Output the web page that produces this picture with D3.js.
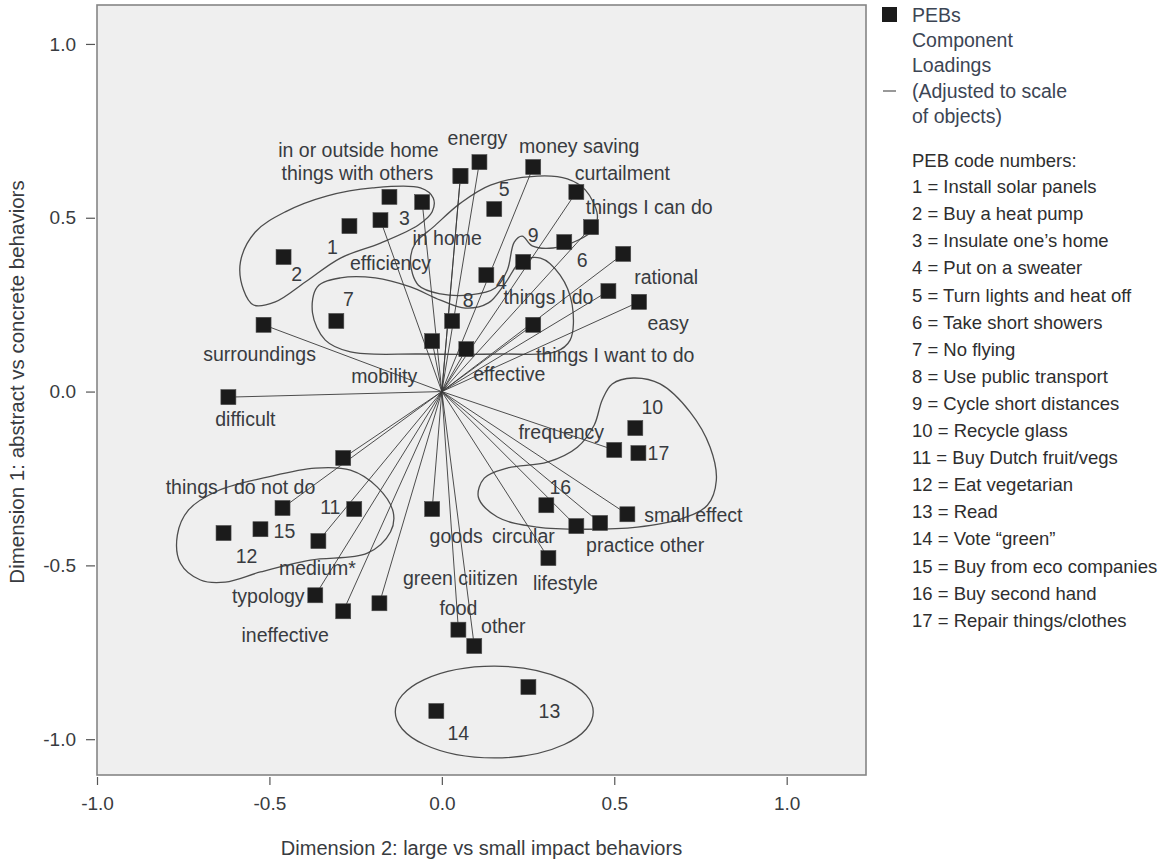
<!DOCTYPE html>
<html>
<head>
<meta charset="utf-8">
<script src="https://cdn.jsdelivr.net/npm/d3@7"></script>
<style>
  body { margin: 0; background: #ffffff; }
  text { font-family: "Liberation Sans", Arial, Helvetica, sans-serif; }
</style>
</head>
<body>
<svg id="chart" width="1170" height="864"></svg>
<script>
// ---------------- DATA ----------------
// PEB objects (numbered behaviours)
const pebCodes = [1, 2, 3, 4, 5, 6, 7, 8, 9, 10, 11, 12, 13, 14, 15, 16, 17];
const pebX = [-0.268, -0.459, -0.152, 0.129, 0.152, 0.355, -0.306, 0.030, 0.236, 0.561, -0.254, -0.633, 0.251, -0.016, -0.526, 0.303, 0.570];
const pebY = [0.476, 0.387, 0.560, 0.335, 0.525, 0.430, 0.203, 0.203, 0.373, -0.105, -0.338, -0.407, -0.850, -0.919, -0.396, -0.327, -0.177];

// Component loadings (vectors from origin)
const loadingNames = ["in or outside home", "things with others", "energy", "money saving", "curtailment",
  "things I can do", "in home", "efficiency", "rational", "things I do", "easy", "things I want to do",
  "effective", "mobility", "surroundings", "difficult", "frequency", "small effect", "practice other",
  "circular", "goods", "lifestyle", "green ciitizen", "food", "other", "typology", "ineffective",
  "medium*", "things I do not do", ""];
const loadingX = [0.054, 0.054, 0.109, 0.265, 0.390, 0.433, -0.057, -0.178, 0.526, 0.483, 0.572, 0.265,
  0.071, -0.028, -0.517, -0.619, 0.500, 0.538, 0.459, 0.390, -0.028, 0.309, -0.181, 0.048, 0.094, -0.367,
  -0.286, -0.358, -0.462, -0.286];
const loadingY = [0.620, 0.620, 0.660, 0.646, 0.574, 0.473, 0.545, 0.493, 0.396, 0.289, 0.258, 0.192,
  0.122, 0.145, 0.192, -0.016, -0.168, -0.353, -0.378, -0.387, -0.338, -0.479, -0.609, -0.685, -0.732, -0.586,
  -0.632, -0.430, -0.335, -0.191];

// Hand-drawn cluster outlines (data units)
const clusterHomeInvest = [[-0.575,0.292],[-0.584,0.373],[-0.541,0.459],[-0.454,0.517],[-0.332,0.563],[-0.201,0.586],[-0.062,0.586],[-0.025,0.557],[-0.028,0.517],[-0.068,0.479],[-0.178,0.427],[-0.294,0.384],[-0.396,0.315],[-0.483,0.258],[-0.546,0.249]];
const clusterCurtail = [[-0.025,0.473],[0.054,0.542],[0.141,0.594],[0.277,0.620],[0.364,0.612],[0.416,0.580],[0.451,0.508],[0.439,0.465],[0.396,0.436],[0.323,0.413],[0.262,0.419],[0.233,0.447],[0.210,0.430],[0.190,0.350],[0.155,0.298],[0.083,0.278],[-0.004,0.281],[-0.068,0.306],[-0.091,0.373],[-0.077,0.427]];
const clusterMobility = [[-0.361,0.301],[-0.294,0.327],[-0.193,0.327],[-0.091,0.301],[-0.004,0.263],[0.068,0.240],[0.135,0.255],[0.184,0.312],[0.228,0.373],[0.286,0.384],[0.343,0.335],[0.378,0.249],[0.372,0.148],[0.329,0.114],[0.170,0.108],[-0.062,0.108],[-0.265,0.114],[-0.338,0.148],[-0.375,0.226]];
const clusterCircular = [[0.465,-0.024],[0.494,0.022],[0.555,0.039],[0.633,0.022],[0.720,-0.059],[0.778,-0.160],[0.796,-0.255],[0.770,-0.327],[0.691,-0.367],[0.567,-0.390],[0.422,-0.396],[0.277,-0.390],[0.161,-0.361],[0.106,-0.304],[0.123,-0.249],[0.190,-0.220],[0.306,-0.203],[0.393,-0.160],[0.442,-0.096]];
const clusterFood = [[-0.767,-0.413],[-0.758,-0.494],[-0.700,-0.542],[-0.628,-0.548],[-0.526,-0.519],[-0.381,-0.485],[-0.216,-0.465],[-0.149,-0.404],[-0.141,-0.347],[-0.187,-0.275],[-0.265,-0.226],[-0.367,-0.220],[-0.506,-0.246],[-0.651,-0.286],[-0.735,-0.341]];
const clusterCitizen = { cx: 0.152, cy: -0.922, rx: 0.287, ry: 0.132 };

const xTicks = [-1.0, -0.5, 0.0, 0.5, 1.0];
const yTicks = [-1.0, -0.5, 0.0, 0.5, 1.0];
const xTitle = "Dimension 2: large vs small impact behaviors";
const yTitle = "Dimension 1: abstract vs concrete behaviors";

const legendHeader = ["PEBs", "Component", "Loadings", "(Adjusted to scale", "of objects)"];
const legendCodeTitle = "PEB code numbers:";
const pebNames = ["Install solar panels", "Buy a heat pump", "Insulate one\u2019s home", "Put on a sweater",
  "Turn lights and heat off", "Take short showers", "No flying", "Use public transport", "Cycle short distances",
  "Recycle glass", "Buy Dutch fruit/vegs", "Eat vegetarian", "Read", "Vote \u201cgreen\u201d",
  "Buy from eco companies", "Buy second hand", "Repair things/clothes"];

// ---------------- LAYOUT (label offsets in px) ----------------
const pebLabelOffset = [[-17,21],[13,17],[15,21],[15,7],[10,-20],[18,18],[12,-22],[16,-21],[10,-27],
  [17,-21],[-24,-2],[23,23],[21,24],[22,22],[24,2],[14,-18],[20,0]];
const loadingLabelOffset = [[-102,-26],[-103,-3],[-2,-24],[46,-21],[46,-19],[58,-20],[25,36],[10,43],
  [43,23],[-60,6],[29,21],[82,30],[43,25],[-48,35],[-4,29],[17,22],[-53,-18],[66,1],[45,22],[-53,10],
  [24,27],[17,25],[81,-25],[0,-22],[29,-20],[-47,1],[-58,24],[-1,27],[-42,-21],[0,0]];

// ---------------- DRAW ----------------
const svg = d3.select("#chart");
const x = d3.scaleLinear().domain([-1.0, 1.23]).range([97, 866]);
const y = d3.scaleLinear().domain([-1.103, 1.112]).range([775, 5]);

const textCol = "#383b40";

// plot frame
svg.append("rect")
  .attr("x", x(-1.0)).attr("y", y(1.112))
  .attr("width", x(1.23) - x(-1.0)).attr("height", y(-1.103) - y(1.112))
  .attr("fill", "#efefef").attr("stroke", "#858585").attr("stroke-width", 1.6);

// axes
const fmt = d => d.toFixed(1);
const gy = svg.append("g").attr("transform", "translate(95,0)")
  .call(d3.axisLeft(y).tickValues(yTicks).tickFormat(fmt).tickSize(9).tickPadding(10));
const gx = svg.append("g").attr("transform", "translate(0,777)")
  .call(d3.axisBottom(x).tickValues(xTicks).tickFormat(fmt).tickSize(8).tickPadding(12));
[gx, gy].forEach(g => {
  g.select(".domain").remove();
  g.selectAll(".tick line").attr("stroke", "#555").attr("stroke-width", 1.2);
  g.selectAll(".tick text").attr("fill", textCol).style("font-size", "19px");
});

svg.append("text").attr("x", (x(-1.0) + x(1.23)) / 2).attr("y", 848)
  .attr("text-anchor", "middle").attr("dominant-baseline", "central")
  .style("font-size", "20px").attr("fill", textCol).text(xTitle);
svg.append("text").attr("transform", `translate(16,${(y(1.112) + y(-1.103)) / 2 - 8}) rotate(-90)`)
  .attr("text-anchor", "middle").attr("dominant-baseline", "central")
  .style("font-size", "20.5px").attr("fill", textCol).text(yTitle);

// cluster outlines
const outline = d3.line().x(d => x(d[0])).y(d => y(d[1])).curve(d3.curveCatmullRomClosed.alpha(0.5));
const gc = svg.append("g").attr("fill", "none").attr("stroke", "#4d4d4d").attr("stroke-width", 1.3);
[clusterHomeInvest, clusterCurtail, clusterMobility, clusterCircular, clusterFood].forEach(c => {
  gc.append("path").attr("d", outline(c));
});
gc.append("ellipse")
  .attr("cx", x(clusterCitizen.cx)).attr("cy", y(clusterCitizen.cy))
  .attr("rx", x(clusterCitizen.cx + clusterCitizen.rx) - x(clusterCitizen.cx))
  .attr("ry", y(clusterCitizen.cy - clusterCitizen.ry) - y(clusterCitizen.cy));

// loading vectors
const loadings = loadingNames.map((n, i) => ({ name: n, x: loadingX[i], y: loadingY[i], off: loadingLabelOffset[i] }));
const pebs = pebCodes.map((c, i) => ({ name: String(c), x: pebX[i], y: pebY[i], off: pebLabelOffset[i] }));

svg.append("g").attr("stroke", "#3a3a3a").attr("stroke-width", 0.9)
  .selectAll("line").data(loadings).join("line")
  .attr("x1", x(0)).attr("y1", y(0))
  .attr("x2", d => x(d.x)).attr("y2", d => y(d.y));

// squares
const sq = 15;
svg.append("g").selectAll("rect").data(loadings.concat(pebs)).join("rect")
  .attr("x", d => x(d.x) - sq / 2).attr("y", d => y(d.y) - sq / 2)
  .attr("width", sq).attr("height", sq)
  .attr("fill", "#1b1b1b").attr("stroke", "#4a4a4a").attr("stroke-width", 0.6);

// labels
svg.append("g").selectAll("text").data(loadings.concat(pebs).filter(d => d.name !== "")).join("text")
  .attr("x", d => x(d.x) + d.off[0]).attr("y", d => y(d.y) + d.off[1])
  .attr("text-anchor", "middle").attr("dy", "0.36em")
  .style("font-size", "19.5px").attr("fill", textCol)
  .text(d => d.name);

// legend
const lg = svg.append("g");
lg.append("rect").attr("x", 882).attr("y", 7).attr("width", 15).attr("height", 15).attr("fill", "#1b1b1b");
lg.append("line").attr("x1", 883).attr("x2", 896).attr("y1", 91).attr("y2", 91).attr("stroke", "#777").attr("stroke-width", 1.5);
legendHeader.forEach((t, i) => {
  lg.append("text").attr("x", 912).attr("y", 15 + i * 25.2).attr("dy", "0.36em")
    .style("font-size", "19.5px").attr("fill", "#3c4554").text(t);
});
lg.append("text").attr("x", 912).attr("y", 160).attr("dy", "0.36em")
  .style("font-size", "18.5px").attr("fill", "#2e2e2e").text(legendCodeTitle);
pebNames.forEach((t, i) => {
  lg.append("text").attr("x", 912).attr("y", 186.5 + i * 27.1).attr("dy", "0.36em")
    .style("font-size", "18.5px").attr("fill", "#2e2e2e").text(`${pebCodes[i]} = ${t}`);
});
</script>
</body>
</html>
